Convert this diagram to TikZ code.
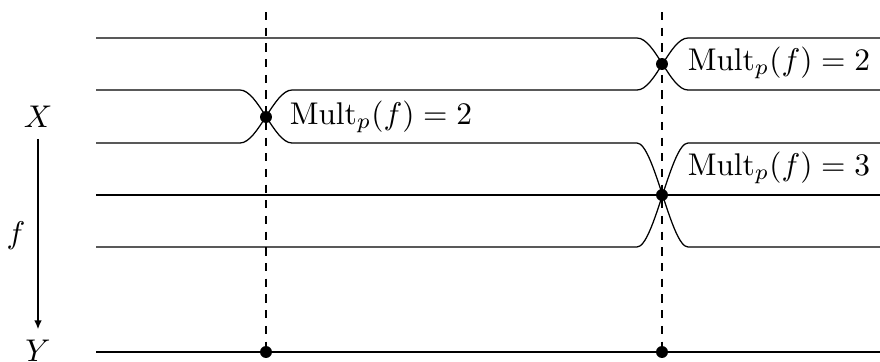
\documentclass[tikz,border=0pt]{standalone}
\usepackage{tikz}
\usetikzlibrary{positioning, arrows.meta}

\begin{document}
\begin{tikzpicture}[
    x=0.0112cm, y=-0.0112cm,
    sheet/.style={line width=0.4pt},
    fibre/.style={line width=0.4pt, dash pattern=on 2.6pt off 2.4pt},
    branch/.style={circle, fill=black, inner sep=0pt, minimum size=3.8pt},
    mult/.style={anchor=west, inner sep=1pt},
    map/.style={line width=0.4pt, -{Latex[length=2.8pt, width=2.4pt]}},
]
\useasboundingbox (0,0) rectangle (880,361);
% fibres over the two branch points
\coordinate (topA) at (266,12);
\coordinate (topB) at (662,12);
\coordinate (botA) at (266,352);
\coordinate (botB) at (662,352);
\draw[fibre] (topA) -- (botA);
\draw[fibre] (topB) -- (botB);
% sheets of X
\draw[sheet] (96,38) -- (637,38) .. controls (655,38) and (670,90) .. (688,90) -- (880,90);
\draw[sheet] (96,90) -- (240,90) .. controls (258,90) and (274,143) .. (292,143) -- (637,143) .. controls (654,143) and (671,247) .. (688,247) -- (880,247);
\draw[sheet] (96,143) -- (240,143) .. controls (258,143) and (274,90) .. (292,90) -- (637,90) .. controls (655,90) and (670,38) .. (688,38) -- (880,38);
\draw[sheet] (96,195) -- (880,195);
\draw[sheet] (96,247) -- (637,247) .. controls (654,247) and (671,143) .. (688,143) -- (880,143);
% Y
\draw[sheet] (96,352) -- (880,352);
% branch points
\node[branch] (pA) at (266,117) {};
\node[branch] (pB) at (662,64) {};
\node[branch] (pC) at (662,195) {};
\node[branch] (qA) at (botA) {};
\node[branch] (qB) at (botB) {};
% multiplicities
\node[mult] (mA) at (286,117) {$\mathrm{Mult}_p(f)=2$};
\node[mult] (mB) at (684,63)  {$\mathrm{Mult}_p(f)=2$};
\node[mult] (mC) at (684,168) {$\mathrm{Mult}_p(f)=3$};
% the map
\node (X) at (38,117) {$X$};
\node (Y) at (38,351) {$Y$};
\node (f) at (16,236) {$f$};
\draw[map] (X) -- (Y);
\end{tikzpicture}
\end{document}
